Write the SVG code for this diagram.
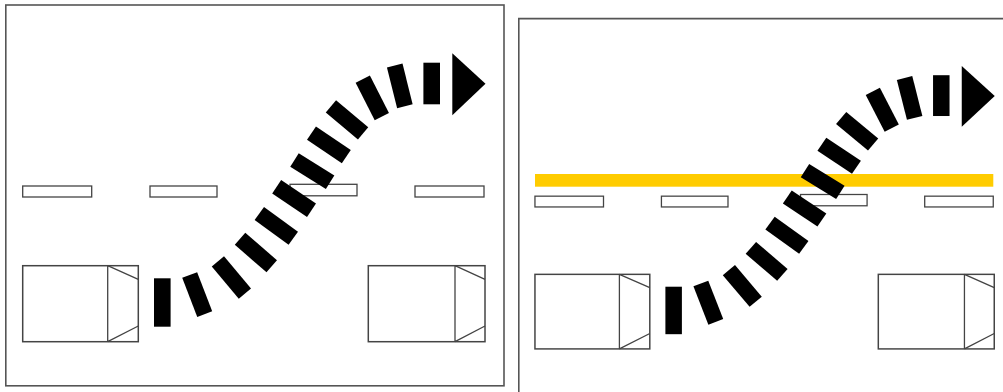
<svg xmlns="http://www.w3.org/2000/svg" xmlns:xlink="http://www.w3.org/1999/xlink" width="1003" height="392" viewBox="0 0 1003 392">
  <style>
    .frame { fill: none; stroke: #555; stroke-width: 1.6; }
    .dash { fill: #fff; stroke: #444; stroke-width: 1.3; }
    .car { fill: #fff; stroke: #444; stroke-width: 1.5; }
    .carline { fill: none; stroke: #444; stroke-width: 1.3; }
    .tie { fill: #000; }
    .lane { fill: #FFCC00; }
  </style>
  <defs>
    <g id="road">
      <rect class="dash" x="22.7" y="186" width="69" height="11"/>
      <rect class="dash" x="150" y="186" width="67" height="11"/>
      <rect class="dash" x="290" y="184.3" width="67" height="11.5"/>
      <rect class="dash" x="415" y="186" width="69" height="11"/>
      <g id="car-a">
        <rect class="car" x="22.7" y="265.7" width="115.6" height="76"/>
        <path class="carline" d="M107.7 265.7V341.7M107.7 265.7L138.3 279.3M107.7 341.7L138.3 326"/>
      </g>
      <g id="car-b">
        <rect class="car" x="368.3" y="265.7" width="116.7" height="76"/>
        <path class="carline" d="M455 265.7V341.7M455 265.7L485 279.3M455 341.7L485 326"/>
      </g>
    </g>
    <g id="arrow">
      <rect class="tie" x="-8.3" y="-24.2" width="16.6" height="48.4" transform="translate(162.3 302.5)"/>
      <rect class="tie" x="-8" y="-21" width="16" height="42" transform="translate(197.2 294.6) rotate(-21)"/>
      <rect class="tie" x="-8" y="-21" width="16" height="42" transform="translate(231.4 277.5) rotate(-40)"/>
      <rect class="tie" x="-8" y="-21" width="16" height="42" transform="translate(255.9 252.5) rotate(-49)"/>
      <rect class="tie" x="-8" y="-21" width="16" height="42" transform="translate(276.3 225.9) rotate(-54)"/>
      <rect class="tie" x="-8" y="-21" width="16" height="42" transform="translate(294.1 198.5) rotate(-56)"/>
      <rect class="tie" x="-8" y="-21" width="16" height="42" transform="translate(312.3 171.1) rotate(-58)"/>
      <rect class="tie" x="-8" y="-21" width="16" height="42" transform="translate(328.9 144.8) rotate(-56)"/>
      <rect class="tie" x="-8" y="-21" width="16" height="42" transform="translate(347 119.8) rotate(-50)"/>
      <rect class="tie" x="-8" y="-21" width="16" height="42" transform="translate(372.3 97.9) rotate(-27)"/>
      <rect class="tie" x="-8" y="-21" width="16" height="42" transform="translate(399.8 85.9) rotate(-14)"/>
      <rect class="tie" x="-8.3" y="-20.8" width="16.6" height="41.6" transform="translate(431.7 83.5)"/>
      <polygon class="tie" points="452.3,53.3 452.3,115.3 485.5,83.8"/>
    </g>
  </defs>

  <g id="panel-left">
    <rect class="frame" x="5.8" y="5" width="498.2" height="380.8"/>
    <use xlink:href="#road"/>
    <use xlink:href="#arrow"/>
  </g>

  <g id="panel-right">
    <path class="frame" d="M518.8 400V18.6H1010"/>
    <use xlink:href="#road" transform="matrix(0.9935 0 0 0.981 512.4 13.7)"/>
    <rect class="lane" x="535" y="174" width="458.3" height="12.7"/>
    <use xlink:href="#arrow" transform="matrix(0.9935 0 0 0.981 512.4 13.7)"/>
  </g>
</svg>
